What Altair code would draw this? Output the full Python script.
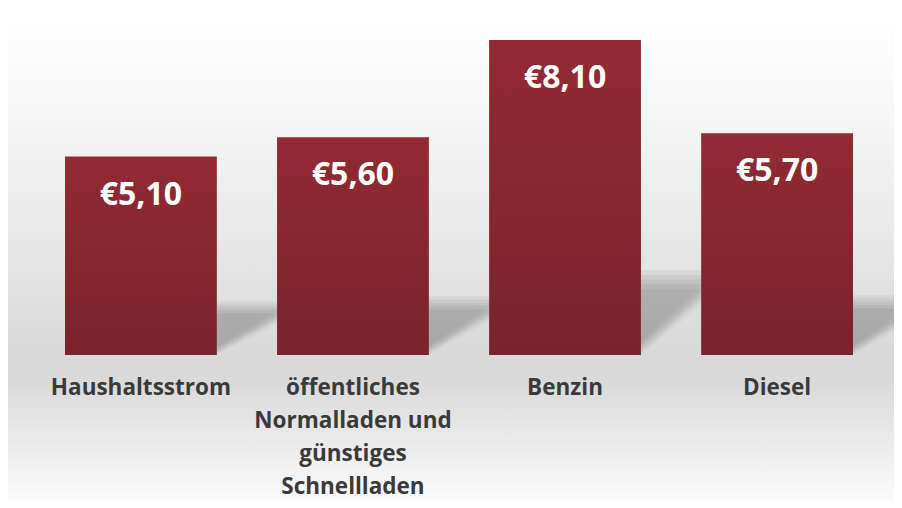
import altair as alt
import pandas as pd

categories = [
    "Haushaltsstrom",
    "öffentliches\nNormalladen und\ngünstiges\nSchnellladen",
    "Benzin",
    "Diesel",
]
values = [5.10, 5.60, 8.10, 5.70]
value_labels = ["€5,10", "€5,60", "€8,10", "€5,70"]

df = pd.DataFrame({"cat": categories, "value": values, "label": value_labels})

W, H = 886, 347
FONT = "Open Sans"

x_scale = alt.Scale(domain=categories, range=[57, 845], paddingInner=0.284, paddingOuter=0)
y_scale = alt.Scale(domain=[0, 8.92], nice=False, zero=True)

bg_grad = alt.Gradient(
    gradient="linear", x1=0, y1=0, x2=0, y2=1,
    stops=[
        alt.GradientStop(color="#ffffff", offset=0),
        alt.GradientStop(color="#f7f7f7", offset=0.2),
        alt.GradientStop(color="#e9e9e9", offset=0.45),
        alt.GradientStop(color="#d9d9d9", offset=0.70),
        alt.GradientStop(color="#dadada", offset=0.76),
        alt.GradientStop(color="#fbfbfb", offset=1),
    ],
)
background = alt.Chart(pd.DataFrame({"a": [0]})).mark_rect(fill=bg_grad).encode(
    x=alt.value(-1), x2=alt.value(W + 8), y=alt.value(0), y2=alt.value(H + 145)
)

x_enc = alt.X(
    "cat:N", scale=x_scale, sort=categories,
    axis=alt.Axis(
        title=None, labelAngle=0, domain=False, ticks=False, labelLimit=0,
        labelExpr="split(datum.label, '\\n')", zindex=1,
        labelFont=FONT, labelFontWeight="bold", labelFontSize=22.5,
        labelColor="#3a3a3a", labelLineHeight=33, labelPadding=21,
    ),
)

base = alt.Chart(df)

# soft-edged shadow: a few translucent layers of slightly different heights
shadow_factors = [0.27, 0.255, 0.24, 0.225, 0.21]
alpha = 0.05
shadow_grad = alt.Gradient(
    gradient="linear", x1=0, y1=0, x2=0.7, y2=1,
    stops=[
        alt.GradientStop(color=f"rgba(0,0,0,{alpha})", offset=0),
        alt.GradientStop(color=f"rgba(0,0,0,{alpha})", offset=0.55),
        alt.GradientStop(color="rgba(0,0,0,0)", offset=0.68),
        alt.GradientStop(color="rgba(0,0,0,0)", offset=1),
    ],
)
shadow_layers = [
    base.transform_calculate(shadow=f"datum.value * {f}")
    .mark_bar(width=61, xOffset=106, fill=shadow_grad, clip=True)
    .encode(x=x_enc, y=alt.Y("shadow:Q", scale=y_scale, axis=None))
    for f in shadow_factors
]

bar_grad = alt.Gradient(
    gradient="linear", x1=0, y1=0, x2=0, y2=1,
    stops=[
        alt.GradientStop(color="#922a33", offset=0),
        alt.GradientStop(color="#79232b", offset=1),
    ],
)
bars = base.mark_bar(fill=bar_grad).encode(
    x=x_enc, y=alt.Y("value:Q", scale=y_scale, axis=None)
)
texts = base.mark_text(
    color="white", font=FONT, fontWeight="bold", fontSize=32,
    baseline="alphabetic", dy=48,
).encode(x=x_enc, y=alt.Y("value:Q", scale=y_scale, axis=None), text="label:N")

chart = alt.layer(background, *shadow_layers, bars, texts).properties(
    width=W, height=H,
    autosize=alt.AutoSizeParams(type="none"),
    padding={"left": 0, "top": 0, "right": 0, "bottom": 145},
    background="#ffffff",
).configure_view(stroke=None)

chart.save("out.html", embed_options={"renderer": "svg", "actions": False})
